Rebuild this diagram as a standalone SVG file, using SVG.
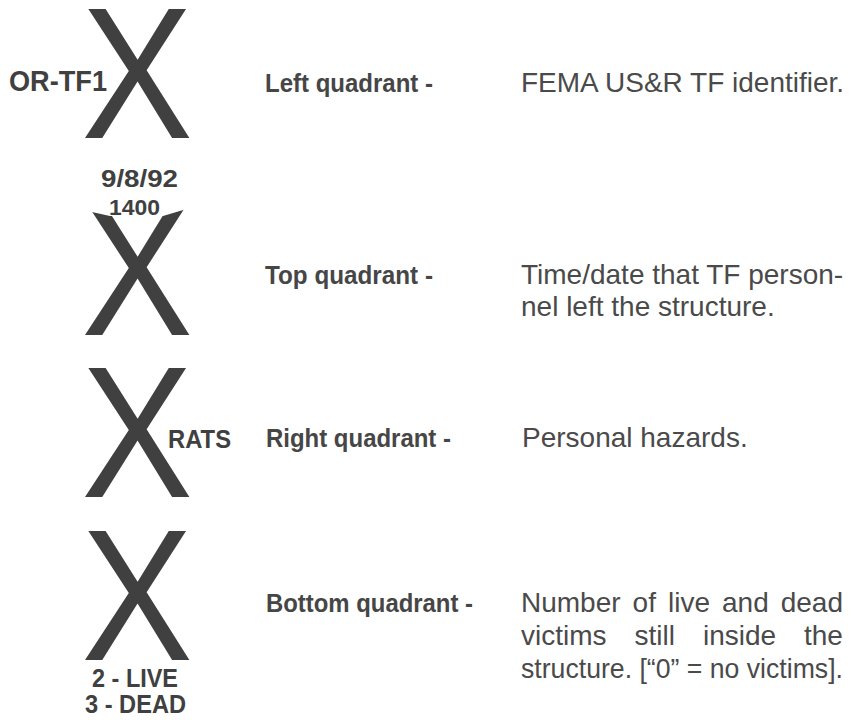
<svg xmlns="http://www.w3.org/2000/svg" width="858" height="720" viewBox="0 0 858 720">
  <style>
    .x { font-family: "Liberation Sans", Arial, sans-serif; font-size: 188px; fill: #404040; text-anchor: middle; }
    .mk { font-family: "Liberation Sans", Arial, sans-serif; font-weight: bold; fill: #404040; }
    .lab { font-family: "Liberation Sans", Arial, sans-serif; font-weight: bold; font-size: 26px; fill: #464646; }
    .desc { font-family: "Liberation Sans", Arial, sans-serif; font-size: 28px; fill: #4a4a4a; }
  </style>
  <defs>
    <clipPath id="clipX2">
      <polygon points="60,205 200,205 200,340 60,340 60,205 110,216 163,216 200,205"/>
    </clipPath>
  </defs>
  <rect width="858" height="720" fill="#ffffff"/>

  <g id="row-left">
    <text class="x" transform="translate(137,138) scale(0.89,1)">X</text>
    <text class="mk" x="9" y="91" font-size="29" textLength="98" lengthAdjust="spacingAndGlyphs">OR-TF1</text>
    <text class="lab" x="265" y="92" textLength="168" lengthAdjust="spacingAndGlyphs" fill="#3f4743">Left quadrant -</text>
    <text class="desc" x="521" y="92">FEMA US&amp;R TF identifier.</text>
  </g>

  <g id="row-top">
    <text class="mk" x="101" y="187" font-size="24" textLength="77" lengthAdjust="spacingAndGlyphs">9/8/92</text>
    <g clip-path="url(#clipX2)">
      <text class="x" transform="translate(137,335) scale(0.89,1)">X</text>
    </g>
    <text class="mk" x="109" y="215" font-size="22" textLength="51" lengthAdjust="spacingAndGlyphs">1400</text>
    <text class="lab" x="265" y="284" textLength="168" lengthAdjust="spacingAndGlyphs">Top quadrant -</text>
    <text class="desc" x="521" y="284">Time/date that TF person-</text>
    <text class="desc" x="521" y="316">nel left the structure.</text>
  </g>

  <g id="row-right">
    <text class="x" transform="translate(137,497) scale(0.89,1)">X</text>
    <text class="mk" x="168" y="448" font-size="25" textLength="63" lengthAdjust="spacingAndGlyphs">RATS</text>
    <text class="lab" x="266" y="447" textLength="185" lengthAdjust="spacingAndGlyphs">Right quadrant -</text>
    <text class="desc" x="522" y="447">Personal hazards.</text>
  </g>

  <g id="row-bottom">
    <text class="x" transform="translate(137,660) scale(0.89,1)">X</text>
    <text class="mk" x="92" y="687" font-size="26" textLength="86" lengthAdjust="spacingAndGlyphs">2 - LIVE</text>
    <text class="mk" x="85" y="713" font-size="26" textLength="101" lengthAdjust="spacingAndGlyphs">3 - DEAD</text>
    <text class="lab" x="266" y="612" textLength="207" lengthAdjust="spacingAndGlyphs">Bottom quadrant -</text>
    <text class="desc" y="612"><tspan x="521">Number</tspan><tspan x="632.6">of</tspan><tspan x="668">live</tspan><tspan x="722">and</tspan><tspan x="780.7">dead</tspan></text>
    <text class="desc" y="645"><tspan x="521">victims</tspan><tspan x="634.5">still</tspan><tspan x="703">inside</tspan><tspan x="804">the</tspan></text>
    <text class="desc" x="521" y="678" textLength="322" lengthAdjust="spacingAndGlyphs">structure.  [“0” = no victims].</text>
  </g>
</svg>
